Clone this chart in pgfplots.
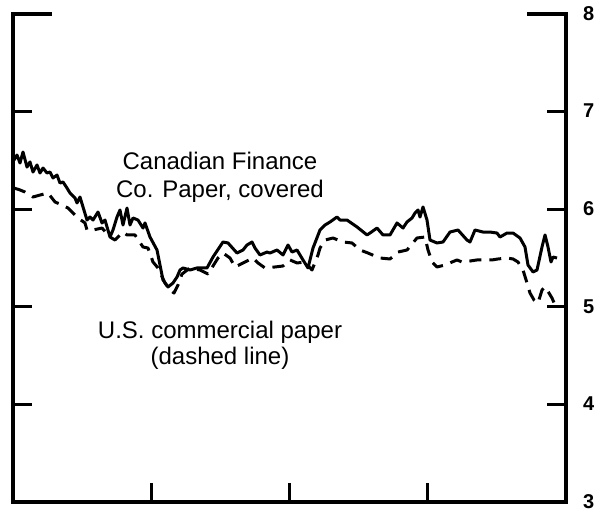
\documentclass[border=0pt]{standalone}
\usepackage{fontspec}
\setmainfont{Liberation Sans}
\usepackage{pgfplots}
\pgfplotsset{compat=1.18}
\begin{document}
\begin{tikzpicture}
\useasboundingbox (0,0) rectangle (604pt,512pt);
\begin{axis}[
  at={(13pt,10pt)}, anchor=south west,
  scale only axis, width=553pt, height=488pt,
  xmin=0, xmax=553, ymin=3, ymax=8,
  xtick={138.25,276.5,414.75}, xticklabels={}, xtick pos=left,
  ytick={3,4,5,6,7,8}, ytick pos=both, yticklabel pos=right,
  tick align=inside, major tick length=19pt,
  every tick/.style={black, line width=3.2pt},
  axis line style={draw=none},
  yticklabel style={font=\fontsize{20}{20}\selectfont\bfseries, inner sep=0pt, xshift=17pt, yshift=0.5pt},
  /pgf/number format/assume math mode=true,
  clip=false,
]
% Canadian Finance Co. Paper, covered (solid)
\addplot[black, line width=3pt, line join=round] coordinates {
(1,6.504) (4,6.555) (7,6.473) (10,6.586) (14,6.432) (17,6.484) (20,6.381) (24,6.453)
(27,6.371) (30,6.422) (34,6.371) (37,6.381) (40,6.320) (44,6.350) (47,6.268) (50,6.279)
(54,6.217) (57,6.166) (62,6.115) (64,6.064) (67,6.125) (70,6.023) (74,5.889) (77,5.920)
(80,5.889) (85,5.971) (89,5.859) (92,5.889) (97,5.715) (100,5.787) (104,5.920) (107,5.992)
(110,5.838) (114,6.012) (117,5.838) (120,5.910) (125,5.889) (130,5.807) (132,5.859) (137,5.715)
(144,5.582) (150,5.275) (155,5.203) (160,5.244) (164,5.305) (167,5.377) (170,5.398) (177,5.377)
(184,5.398) (194,5.398) (200,5.510) (210,5.664) (215,5.654) (224,5.551) (230,5.582) (234,5.633)
(239,5.664) (242,5.602) (247,5.531) (254,5.561) (257,5.551) (264,5.582) (270,5.531) (275,5.633)
(279,5.561) (284,5.582) (290,5.480) (295,5.398) (300,5.602) (307,5.787) (312,5.838) (317,5.869)
(324,5.920) (327,5.889) (334,5.889) (344,5.818) (354,5.736) (357,5.756) (364,5.807) (370,5.736)
(377,5.736) (384,5.859) (390,5.807) (394,5.869) (399,5.910) (402,5.961) (405,5.992) (407,5.920)
(410,6.023) (414,5.889) (417,5.684) (424,5.654) (430,5.664) (437,5.766) (445,5.787) (454,5.684)
(457,5.664) (462,5.787) (470,5.766) (477,5.766) (484,5.756) (487,5.715) (494,5.756) (500,5.756)
(507,5.705) (512,5.613) (515,5.428) (520,5.357) (524,5.377) (529,5.613) (532,5.736) (535,5.613)
(538,5.459) (540,5.510) (544,5.500)
};
% U.S. commercial paper (dashed)
\addplot[black, line width=3pt, line join=round, dash pattern=on 12pt off 8pt] coordinates {
(1,6.217) (7,6.197) (12,6.176) (20,6.125) (27,6.145) (35,6.166) (42,6.074) (49,6.043)
(55,6.012) (60,5.961) (65,5.910) (72,5.859) (74,5.787) (80,5.787) (89,5.807) (97,5.715)
(102,5.684) (110,5.766) (114,5.736) (122,5.736) (130,5.613) (135,5.602) (140,5.459) (145,5.398)
(152,5.244) (157,5.172) (161,5.141) (165,5.223) (169,5.336) (177,5.398) (187,5.377) (195,5.336)
(205,5.500) (210,5.551) (217,5.500) (222,5.408) (232,5.459) (240,5.500) (245,5.449) (252,5.398)
(262,5.408) (270,5.418) (277,5.480) (284,5.449) (292,5.459) (299,5.377) (305,5.531) (307,5.602)
(312,5.684) (320,5.705) (330,5.664) (339,5.654) (347,5.582) (355,5.551) (362,5.520) (367,5.500)
(377,5.490) (385,5.561) (394,5.582) (404,5.705) (412,5.715) (415,5.582) (419,5.459) (424,5.408)
(432,5.428) (439,5.459) (444,5.480) (449,5.459) (457,5.469) (464,5.480) (472,5.480) (479,5.480)
(485,5.490) (494,5.500) (500,5.490) (505,5.459) (510,5.377) (514,5.244) (517,5.141) (521,5.070)
(525,5.039) (529,5.172) (532,5.203) (536,5.141) (539,5.090) (542,5.018) (544,4.998)
};
% frame (open at the top)
\draw[black, line width=4pt, line join=miter]
  (axis cs:39,8) -- (axis cs:0,8) -- (axis cs:0,3) -- (axis cs:553,3) -- (axis cs:553,8) -- (axis cs:514,8);
\node[anchor=base, font=\fontsize{24}{24}\selectfont] at (axis cs:207,6.402) {Canadian Finance};
\node[anchor=base, font=\fontsize{24}{24}\selectfont] at (axis cs:207,6.115) {Co. Paper, covered};
\node[anchor=base, font=\fontsize{24}{24}\selectfont] at (axis cs:207,4.680) {U.S. commercial paper};
\node[anchor=base, font=\fontsize{24}{24}\selectfont] at (axis cs:207,4.404) {(dashed line)};
\end{axis}
\end{tikzpicture}
\end{document}
